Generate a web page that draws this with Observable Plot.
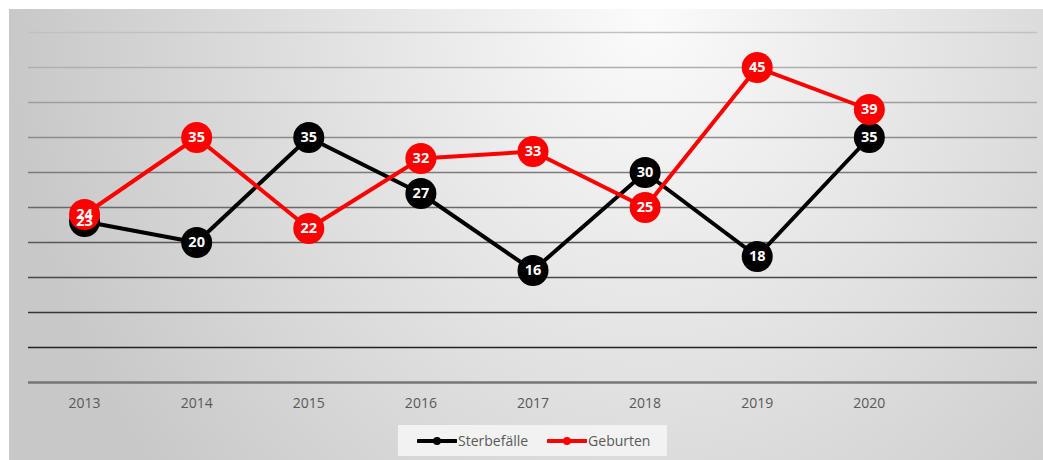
<!DOCTYPE html>
<html>
<head>
<meta charset="utf-8">
<script src="https://cdn.jsdelivr.net/npm/d3@7"></script>
<script src="https://cdn.jsdelivr.net/npm/@observablehq/plot@0.6"></script>
<style>
  html, body { margin: 0; padding: 0; background: #ffffff; width: 1043px; height: 460px; overflow: hidden; }
  #bg { position: absolute; left: 9px; top: 9px; width: 1034px; height: 451px;
        background: radial-gradient(ellipse 640px 720px at 640px 10px, #fbfbfb 0%, #c8c8c8 100%); }
  #chart { position: absolute; left: 0; top: 0; }
  #legend { position: absolute; left: 398px; top: 425px; width: 269px; height: 31px; background: #f2f2f2;
            display: flex; align-items: center; font-family: "Open Sans", sans-serif; font-size: 14px; color: #595959; }
  .item { display: flex; align-items: center; }
  .item svg { display: block; }
</style>
</head>
<body>
<div id="bg"></div>
<div id="chart"></div>
<div id="legend"></div>
<script>
const years = [2013, 2014, 2015, 2016, 2017, 2018, 2019, 2020];
const sterbefaelle = [23, 20, 35, 27, 16, 30, 18, 35];
const geburten = [24, 35, 22, 32, 33, 25, 45, 39];
const gridValues = [5, 10, 15, 20, 25, 30, 35, 40, 45, 50];
const seriesNames = ["Sterbefälle", "Geburten"];
const seriesColors = ["#000000", "#ff0000"];

const rowsS = years.map((year, i) => ({year, value: sterbefaelle[i]}));
const rowsG = years.map((year, i) => ({year, value: geburten[i]}));

const gridColor = v => {
  const g = Math.round(35 + (v - 5) / 45 * 158);
  return d3.rgb(g, g, g).formatHex();
};

const chart = Plot.plot({
  width: 1043,
  height: 420,
  marginLeft: 28,
  marginRight: 6,
  marginTop: 32,
  marginBottom: 38,
  style: { background: "transparent", fontFamily: "'Open Sans', sans-serif", color: "#595959" },
  x: { type: "linear", domain: [2012.5, 2021.5], axis: null },
  y: { domain: [0, 50], axis: null },
  color: { type: "identity" },
  marks: [
    Plot.ruleY(gridValues, { y: d => d, stroke: d => gridColor(d), strokeWidth: 1.3 }),
    Plot.ruleY([0], { stroke: "#767676", strokeWidth: 2.5 }),
    Plot.axisX({ ticks: years, tickFormat: d => String(d), tickSize: 0, tickPadding: 16, fontSize: 14, label: null }),
    Plot.line(rowsS, { x: "year", y: "value", stroke: seriesColors[0], strokeWidth: 4 }),
    Plot.dot(rowsS, { x: "year", y: "value", r: 15.5, fill: seriesColors[0] }),
    Plot.line(rowsG, { x: "year", y: "value", stroke: seriesColors[1], strokeWidth: 4 }),
    Plot.dot(rowsG, { x: "year", y: "value", r: 15.5, fill: seriesColors[1] }),
    Plot.text(rowsS, { x: "year", y: "value", text: d => String(d.value), fill: "white", fontWeight: "bold", fontSize: 14.5 }),
    Plot.text(rowsG, { x: "year", y: "value", text: d => String(d.value), fill: "white", fontWeight: "bold", fontSize: 14.5 })
  ]
});
document.getElementById("chart").appendChild(chart);

const legend = document.getElementById("legend");
seriesNames.forEach((name, i) => {
  const item = document.createElement("div");
  item.className = "item";
  item.style.marginLeft = "19px";
  item.innerHTML = `<svg width="40" height="10"><line x1="1" y1="5" x2="39" y2="5" stroke="${seriesColors[i]}" stroke-width="4" stroke-linecap="round"/><circle cx="20" cy="5" r="4" fill="${seriesColors[i]}"/></svg><span style="margin-left:1px">${name}</span>`;
  legend.appendChild(item);
});
</script>
</body>
</html>
